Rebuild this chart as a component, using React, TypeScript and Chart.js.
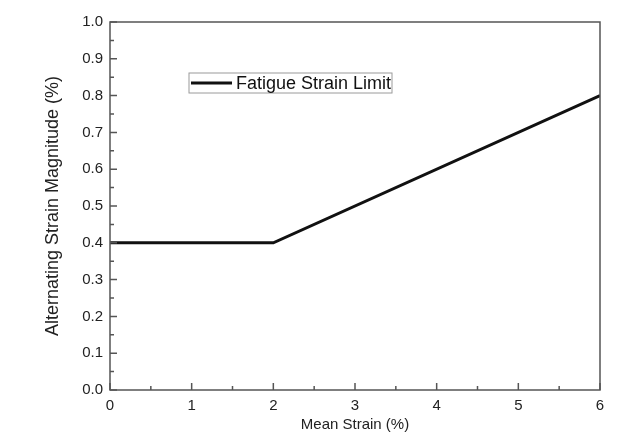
import { useEffect, useRef } from 'react';
import { Chart, registerables } from 'chart.js';

Chart.register(...registerables);

const meanStrain = [0, 2, 6];
const strainLimit = [0.4, 0.4, 0.8];
const xMajor = [0, 1, 2, 3, 4, 5, 6];
const xMinor = [0.5, 1.5, 2.5, 3.5, 4.5, 5.5];
const yMajor = [0, 0.1, 0.2, 0.3, 0.4, 0.5, 0.6, 0.7, 0.8, 0.9, 1.0];
const yMinor = [0.05, 0.15, 0.25, 0.35, 0.45, 0.55, 0.65, 0.75, 0.85, 0.95];
const seriesLabel = 'Fatigue Strain Limit';

const FONT = '"Liberation Sans", Arial, sans-serif';
const AXIS = '#555555';

// inward ticks + frame + legend box
const framePlugin = {
  id: 'frame',
  afterDraw(chart: any) {
    const { ctx, chartArea, scales } = chart;
    const { left, right, top, bottom } = chartArea;
    ctx.save();
    ctx.strokeStyle = AXIS;
    ctx.lineWidth = 1.5;
    ctx.strokeRect(left, top, right - left, bottom - top);

    ctx.beginPath();
    const tick = (vals: number[], len: number, horiz: boolean) => {
      vals.forEach((v) => {
        if (horiz) {
          const px = scales.x.getPixelForValue(v);
          ctx.moveTo(px, bottom);
          ctx.lineTo(px, bottom - len);
        } else {
          const py = scales.y.getPixelForValue(v);
          ctx.moveTo(left, py);
          ctx.lineTo(left + len, py);
        }
      });
    };
    tick(xMajor, 7, true);
    tick(xMinor, 4, true);
    tick(yMajor, 7, false);
    tick(yMinor, 4, false);
    ctx.stroke();

    // legend
    const bx = 189, by = 73, bw = 203, bh = 20;
    ctx.strokeStyle = '#9a9a9a';
    ctx.lineWidth = 1;
    ctx.strokeRect(bx, by, bw, bh);
    ctx.strokeStyle = '#111111';
    ctx.lineWidth = 3;
    ctx.beginPath();
    ctx.moveTo(bx + 2, by + bh / 2);
    ctx.lineTo(bx + 43, by + bh / 2);
    ctx.stroke();
    ctx.fillStyle = '#111111';
    ctx.font = `18px ${FONT}`;
    ctx.textBaseline = 'middle';
    ctx.fillText(chart.data.datasets[0].label, bx + 47, by + bh / 2 + 1);
    ctx.restore();
  },
};

export default function App() {
  const chartRef = useRef<HTMLCanvasElement>(null);
  const chartInstance = useRef<Chart | null>(null);

  useEffect(() => {
    if (!chartRef.current) return;
    if (chartInstance.current) chartInstance.current.destroy();
    const ctx = chartRef.current.getContext('2d');
    if (!ctx) return;

    chartInstance.current = new Chart(ctx, {
      type: 'line',
      data: {
        datasets: [{
          label: seriesLabel,
          data: meanStrain.map((x, i) => ({ x, y: strainLimit[i] })),
          borderColor: '#111111',
          borderWidth: 3,
          pointRadius: 0,
          tension: 0,
        }],
      },
      options: {
        animation: false,
        responsive: true,
        maintainAspectRatio: false,
        layout: { padding: { left: 38, right: 34, top: 22, bottom: 9 } },
        plugins: {
          legend: { display: false },
          tooltip: { enabled: false },
        },
        scales: {
          x: {
            type: 'linear',
            min: 0,
            max: 6,
            afterFit: (s: any) => { s.height = 48; },
            grid: { display: false, drawTicks: false },
            border: { display: false },
            ticks: {
              stepSize: 1,
              padding: 7,
              color: '#222222',
              font: { family: FONT, size: 15 },
            },
            title: {
              display: true,
              text: 'Mean Strain (%)',
              color: '#222222',
              font: { family: FONT, size: 15 },
            },
          },
          y: {
            min: 0,
            max: 1,
            afterFit: (s: any) => { s.width = 72; },
            grid: { display: false, drawTicks: false },
            border: { display: false },
            ticks: {
              stepSize: 0.1,
              padding: 7,
              color: '#222222',
              font: { family: FONT, size: 15 },
              callback: (v: any) => Number(v).toFixed(1),
            },
            title: {
              display: true,
              text: 'Alternating Strain Magnitude (%)',
              color: '#222222',
              font: { family: FONT, size: 18 },
            },
          },
        },
      },
      plugins: [framePlugin],
    } as any);

    return () => {
      if (chartInstance.current) {
        chartInstance.current.destroy();
        chartInstance.current = null;
      }
    };
  }, []);

  return (
    <div style={{ position: 'absolute', left: 0, top: 0, width: 634, height: 447, background: '#ffffff' }}>
      <canvas ref={chartRef} />
    </div>
  );
}
